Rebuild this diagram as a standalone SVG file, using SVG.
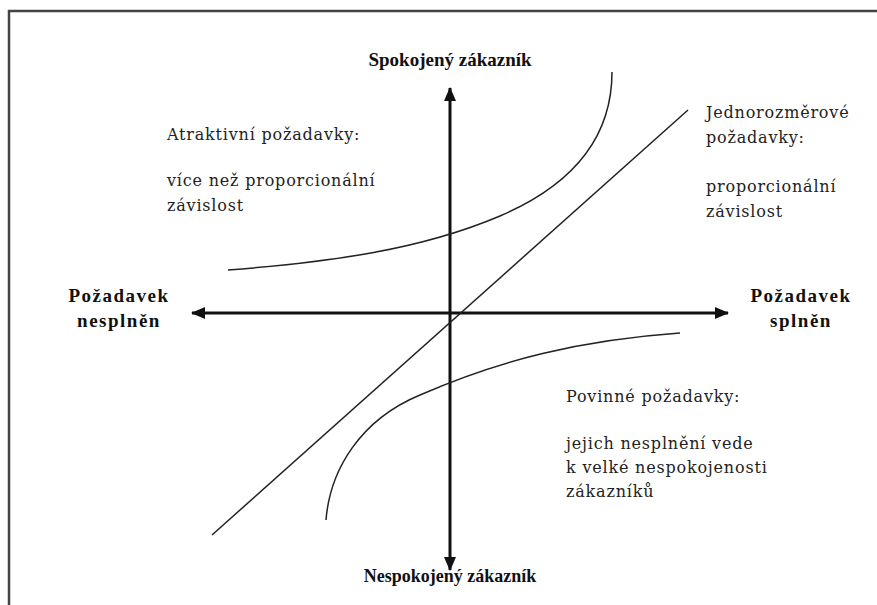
<svg xmlns="http://www.w3.org/2000/svg" width="877" height="605" viewBox="0 0 877 605">
<style>
.b{font-family:"Liberation Serif",serif;font-weight:bold;font-size:19px;fill:#111}
.s{font-size:18px}
.w{letter-spacing:1.5px}
.t{font-family:"DejaVu Serif",serif;font-size:16px;letter-spacing:0.8px;fill:#222}
.ax{stroke:#111;stroke-width:3;fill:none}
.cv{stroke:#222;stroke-width:1.5;fill:none}
</style>
<defs>
<marker id="ah" viewBox="0 0 14 12" refX="13" refY="6" markerWidth="14" markerHeight="12" markerUnits="userSpaceOnUse" orient="auto-start-reverse">
<path d="M0,0 L14,6 L0,12 Z" fill="#111"/>
</marker>
</defs>
<rect width="877" height="605" fill="#fff"/>
<rect x="9" y="11" width="900" height="620" fill="none" stroke="#444" stroke-width="2.5"/>
<g id="connectors">
<line class="ax" x1="450" y1="570" x2="450" y2="88" marker-start="url(#ah)" marker-end="url(#ah)"/>
<line class="ax" x1="192" y1="313" x2="728" y2="313" marker-start="url(#ah)" marker-end="url(#ah)"/>
<line class="cv" x1="212" y1="535" x2="688" y2="110"/>
<path class="cv" d="M228,270 C330,262 420,250 500,216 C570,186 612,140 612,72"/>
<path class="cv" d="M326,520 C330,470 360,420 420,395 C500,360 580,340 680,333"/>
</g>
<g id="top"><text class="b" x="450" y="66" text-anchor="middle">Spokojený zákazník</text></g>
<g id="bottom"><text class="b s" x="450" y="582" text-anchor="middle">Nespokojený zákazník</text></g>
<g id="left"><text class="b w" x="119" y="302" text-anchor="middle">Požadavek</text><text class="b w" x="119" y="327" text-anchor="middle">nesplněn</text></g>
<g id="right"><text class="b w" x="801" y="302" text-anchor="middle">Požadavek</text><text class="b w" x="801" y="327" text-anchor="middle">splněn</text></g>
<g id="attractive">
<text class="t" x="167" y="140">Atraktivní požadavky:</text>
<text class="t" x="167" y="186">více než proporcionální</text>
<text class="t" x="167" y="211">závislost</text>
</g>
<g id="onedim">
<text class="t" x="706" y="118">Jednorozměrové</text>
<text class="t" x="706" y="143">požadavky:</text>
<text class="t" x="706" y="192">proporcionální</text>
<text class="t" x="706" y="217">závislost</text>
</g>
<g id="mandatory">
<text class="t" x="566" y="402">Povinné požadavky:</text>
<text class="t" x="566" y="449">jejich nesplnění vede</text>
<text class="t" x="566" y="473">k velké nespokojenosti</text>
<text class="t" x="566" y="497">zákazníků</text>
</g>
</svg>
